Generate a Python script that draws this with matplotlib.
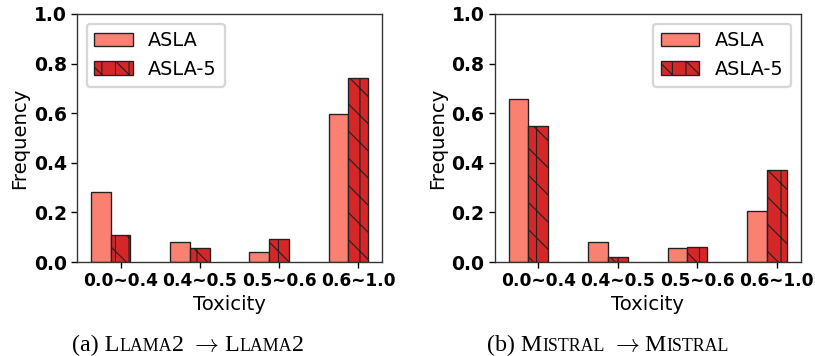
import matplotlib
matplotlib.use("Agg")
import matplotlib.pyplot as plt
import numpy as np

categories = ["0.0~0.4", "0.4~0.5", "0.5~0.6", "0.6~1.0"]
series_names = ["ASLA", "ASLA-5"]

llama_asla = [0.283, 0.082, 0.042, 0.596]
llama_asla5 = [0.110, 0.056, 0.094, 0.742]

mistral_asla = [0.659, 0.081, 0.058, 0.206]
mistral_asla5 = [0.550, 0.021, 0.062, 0.369]

SERIF = ["Liberation Serif", "DejaVu Serif"]

plt.rcParams["hatch.linewidth"] = 0.5
plt.rcParams["hatch.color"] = "black"


def draw_panel(ax, asla, asla5, legend_loc):
    x = np.arange(len(categories))
    w = 0.25
    ax.bar(x - w, asla, w, color="#fa8072", edgecolor="#222222",
           linewidth=0.6, label=series_names[0])
    ax.bar(x, asla5, w, color="#d62728", edgecolor="#222222",
           linewidth=0.6, hatch="\\\\||", label=series_names[1])
    ax.set_ylim(0, 1.0)
    ax.set_xticks(x)
    ax.set_xticklabels(categories, fontsize=7.5, fontweight="bold")
    ax.set_yticks([0.0, 0.2, 0.4, 0.6, 0.8, 1.0])
    ax.set_yticklabels(["0.0", "0.2", "0.4", "0.6", "0.8", "1.0"],
                       fontsize=8.3, fontweight="bold")
    ax.tick_params(length=2.5, width=0.6, pad=2)
    ax.set_xlabel("Toxicity", fontsize=8.7, labelpad=2)
    ax.set_ylabel("Frequency", fontsize=8.7, labelpad=2)
    for s in ax.spines.values():
        s.set_linewidth(0.6)
        s.set_color("#333333")
    ax.legend(loc=legend_loc, fontsize=8.5, handlelength=2.0,
              borderaxespad=0.5)


def caption(fig, x, y, parts):
    # draw text pieces one after another to fake small caps
    r = fig.canvas.get_renderer()
    for s, size in parts:
        t = fig.text(x, y, s, fontsize=size, family=SERIF,
                     math_fontfamily="cm", ha="left", va="baseline")
        bb = t.get_window_extent(renderer=r)
        x += bb.width / fig.bbox.width


fig = plt.figure(figsize=(5.0, 356 / 163), dpi=163)
ax1 = fig.add_axes([0.0945, 0.264, 0.3742, 0.6967])
ax2 = fig.add_axes([0.607, 0.264, 0.3755, 0.6967])

draw_panel(ax1, llama_asla, llama_asla5, "upper left")
draw_panel(ax2, mistral_asla, mistral_asla5, "upper right")

big, small = 10.6, 7.9
arrow = r"$\rightarrow$"
base_y = 1 - 351 / 356
caption(fig, 72 / 815, base_y, [("(a) L", big), ("LAMA", small), ("2 ", big),
                                (arrow, big), (" L", big), ("LAMA", small),
                                ("2", big)])
caption(fig, 487 / 815, base_y, [("(b) M", big), ("ISTRAL", small), (" ", big),
                                 (arrow, big), (" M", big), ("ISTRAL", small)])

fig.savefig("out.png", dpi=163)
